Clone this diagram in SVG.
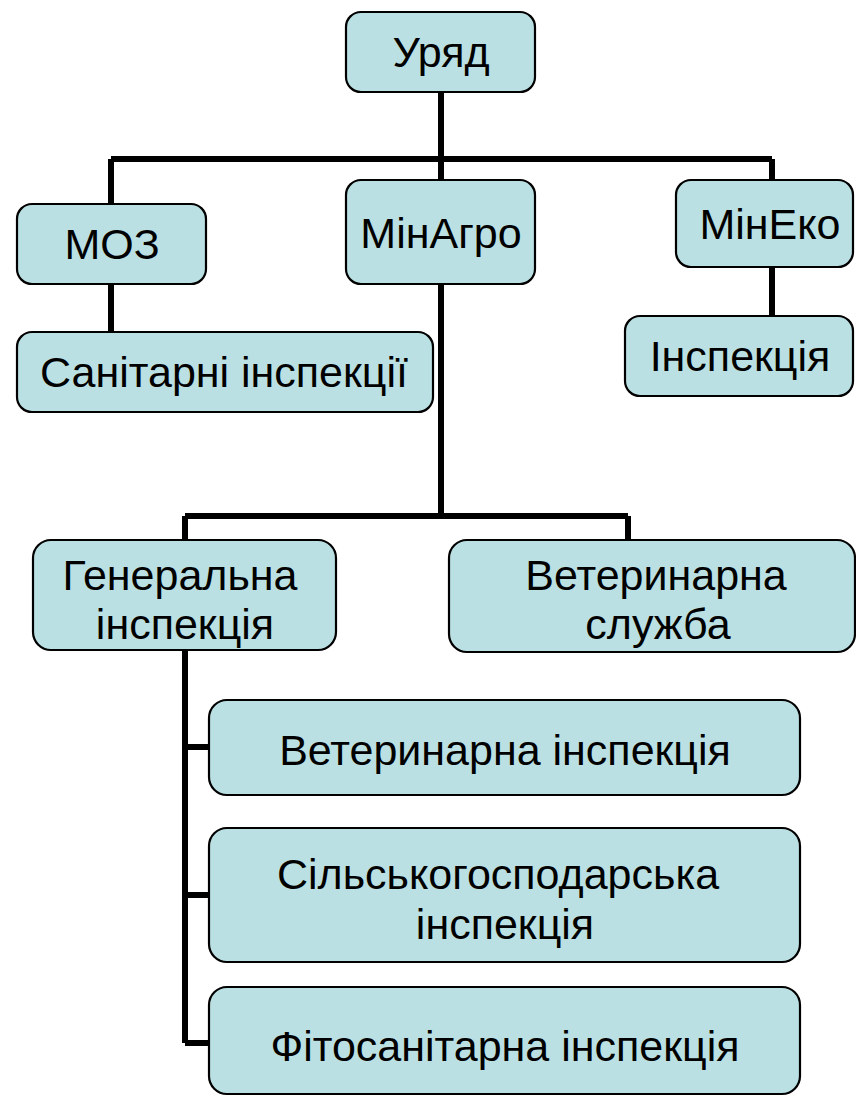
<svg xmlns="http://www.w3.org/2000/svg" width="856" height="1097" viewBox="0 0 856 1097">
<style>
.box{fill:#BBE0E3;stroke:#000;stroke-width:2.2}
.t{font-family:"Liberation Sans",Arial,sans-serif;font-size:43px;fill:#000;text-anchor:middle}
.c{fill:none;stroke:#000;stroke-width:6}
</style>
<rect width="856" height="1097" fill="#fff"/>
<g id="connectors">
<path class="c" d="M441,92 V516 M111,159 H772 M111,159 V204 M111,284 V332 M772,159 V180 M772,267 V316 M185,516 H628 M185,516 V540 M628,516 V540 M185,650 V1043 M185,747 H209 M185,895 H209 M185,1043 H209"/>
</g>
<g id="n-uriad"><rect class="box" x="346" y="12" width="189" height="80" rx="15"/><text class="t" x="441" y="67">Уряд</text></g>
<g id="n-moz"><rect class="box" x="17" y="204" width="189" height="80" rx="15"/><text class="t" x="112" y="259">МОЗ</text></g>
<g id="n-minagro"><rect class="box" x="346" y="180" width="189" height="104" rx="15"/><text class="t" x="441" y="248">МінАгро</text></g>
<g id="n-mineko"><rect class="box" x="676" y="180" width="177" height="87" rx="15"/><text class="t" x="770" y="239">МінЕко</text></g>
<g id="n-sanit"><rect class="box" x="17" y="332" width="416" height="80" rx="15"/><text class="t" x="224" y="387">Санітарні інспекції</text></g>
<g id="n-insp"><rect class="box" x="625" y="316" width="228" height="80" rx="15"/><text class="t" x="740" y="371">Інспекція</text></g>
<g id="n-gen"><rect class="box" x="33" y="540" width="303" height="110" rx="18"/><text class="t" x="180" y="590">Генеральна</text><text class="t" x="185" y="639">інспекція</text></g>
<g id="n-vetsl"><rect class="box" x="449" y="540" width="406" height="112" rx="18"/><text class="t" x="656" y="590">Ветеринарна</text><text class="t" x="658" y="639">служба</text></g>
<g id="n-vetinsp"><rect class="box" x="209" y="700" width="591" height="95" rx="18"/><text class="t" x="505" y="765">Ветеринарна інспекція</text></g>
<g id="n-silsk"><rect class="box" x="209" y="828" width="591" height="134" rx="18"/><text class="t" x="498" y="889">Сільськогосподарська</text><text class="t" x="505" y="939">інспекція</text></g>
<g id="n-fito"><rect class="box" x="209" y="987" width="591" height="107" rx="18"/><text class="t" x="505" y="1061">Фітосанітарна інспекція</text></g>
</svg>
